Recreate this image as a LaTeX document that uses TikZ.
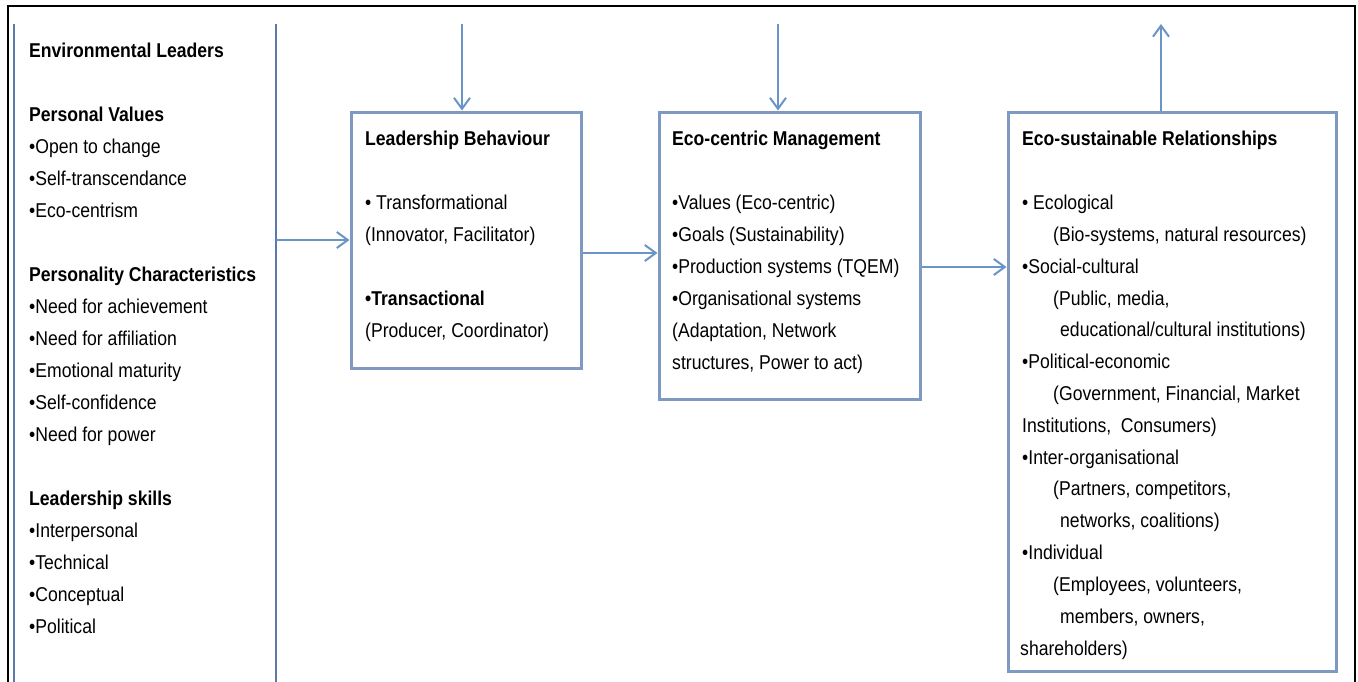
\documentclass[tikz,border=0pt]{standalone}
\usepackage{fontspec}
\setmainfont[FakeStretch=0.88]{Liberation Sans}
\usetikzlibrary{arrows.meta}
\definecolor{boxblue}{HTML}{7F9AC0}
\definecolor{panelblue}{HTML}{5B7BA6}
\definecolor{arrowblue}{HTML}{6A93C8}
\begin{document}
\begin{tikzpicture}[x=1pt,y=-1pt,
  txt/.style={anchor=base west, inner sep=0pt, font=\fontsize{20}{24}\selectfont},
  box/.style={draw=boxblue, line width=3pt, rectangle, inner sep=0pt},
  arr/.style={draw=arrowblue, line width=2pt, -{Straight Barb[length=11pt,width=16pt]}},
  panel/.style={draw=panelblue, line width=2pt}]

\useasboundingbox[fill=white] (0,0) rectangle (1358,681);

% outer frame (runs past the lower edge)
\draw[line width=2pt] (8,700) -- (8,6) -- (1355,6) -- (1355,700);

% left panel: environmental leaders
\draw[panel] (14,24) -- (14,700);
\draw[panel] (276,24) -- (276,700);
\foreach \yy/\tt [count=\i] in {
  57/{\bfseries Environmental Leaders},
  121/{\bfseries Personal Values},
  153/{•Open to change},
  185/{•Self-transcendance},
  217/{•Eco-centrism},
  281/{\bfseries Personality Characteristics},
  313/{•Need for achievement},
  345/{•Need for affiliation},
  377/{•Emotional maturity},
  409/{•Self-confidence},
  441/{•Need for power},
  505/{\bfseries Leadership skills},
  537/{•Interpersonal},
  569/{•Technical},
  601/{•Conceptual},
  633/{•Political}}
  \node[txt] (l\i) at (29,\yy) {\tt};

% three stage boxes
\node[box, minimum width=230pt, minimum height=256pt] (lb) at (466,240) {};
\node[box, minimum width=261pt, minimum height=287pt] (ecm) at (789.5,255.5) {};
\node[box, minimum width=328pt, minimum height=559pt] (esr) at (1172,391.5) {};

% leadership behaviour
\foreach \yy/\tt [count=\i] in {
  145/{\bfseries Leadership Behaviour},
  209/{• Transformational},
  241/{(Innovator, Facilitator)},
  305/{\bfseries •Transactional},
  337/{(Producer, Coordinator)}}
  \node[txt] (b\i) at (365,\yy) {\tt};

% eco-centric management
\foreach \yy/\tt [count=\i] in {
  145/{\bfseries Eco-centric Management},
  209/{•Values (Eco-centric)},
  241/{•Goals (Sustainability)},
  273/{•Production systems (TQEM)},
  305/{•Organisational systems},
  337/{(Adaptation, Network},
  369/{structures, Power to act)}}
  \node[txt] (m\i) at (672,\yy) {\tt};

% eco-sustainable relationships
\foreach \xx/\yy/\tt [count=\i] in {
  1022/145/{\bfseries Eco-sustainable Relationships},
  1022/209/{• Ecological},
  1053/241/{(Bio-systems, natural resources)},
  1022/273/{•Social-cultural},
  1053/305/{(Public, media,},
  1060/336/{educational/cultural institutions)},
  1022/368/{•Political-economic},
  1053/400/{(Government, Financial, Market},
  1022/432/{Institutions,\ \ Consumers)},
  1022/464/{•Inter-organisational},
  1053/495/{(Partners, competitors,},
  1060/527/{networks, coalitions)},
  1022/559/{•Individual},
  1053/591/{(Employees, volunteers,},
  1060/623/{members, owners,},
  1020/655/{shareholders)}}
  \node[txt] (r\i) at (\xx,\yy) {\tt};

% connectors
\coordinate (lp) at (276,240);
\draw[arr] (lp) -- (lb.west);
\coordinate (a2) at ([yshift=-13pt]lb.east);
\draw[arr] (a2) -- (a2 -| ecm.west);
\coordinate (a3) at ([yshift=-11.5pt]ecm.east);
\draw[arr] (a3) -- (a3 -| esr.west);
\coordinate (t1) at (462,24);
\draw[arr] (t1) -- (t1 |- lb.north);
\coordinate (t2) at (778,24);
\draw[arr] (t2) -- (t2 |- ecm.north);
\coordinate (t3) at (1161,24);
\draw[arr] (t3 |- esr.north) -- (t3);
\end{tikzpicture}
\end{document}
